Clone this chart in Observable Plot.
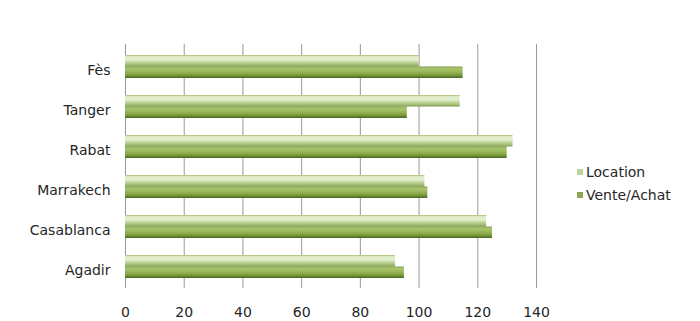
<!DOCTYPE html>
<html>
<head>
<meta charset="utf-8">
<script src="https://cdn.jsdelivr.net/npm/d3@7"></script>
<script src="https://cdn.jsdelivr.net/npm/@observablehq/plot@0.6"></script>
<style>
  html, body { margin: 0; padding: 0; background: #fff; }
  #wrap { position: relative; width: 700px; height: 321px; font-family: "DejaVu Sans", sans-serif; }
  #legend { position: absolute; left: 577px; top: 161px; font-size: 14px; color: #262626; line-height: 22.5px; }
  #legend .sw { display: inline-block; width: 6px; height: 6px; margin-right: 3px; vertical-align: 2px; }
</style>
</head>
<body>
<div id="wrap"></div>
<script>
const cities = ["Fès", "Tanger", "Rabat", "Marrakech", "Casablanca", "Agadir"];
const location_ = [100, 114, 132, 102, 123, 92];
const venteAchat = [115, 96, 130, 103, 125, 95];
const series = ["Location", "Vente/Achat"];
const xTicks = [0, 20, 40, 60, 80, 100, 120, 140];
const legendColors = ["#bcd39a", "#8aa653"];

const rows = [];
cities.forEach((c, i) => {
  rows.push({city: c, series: series[0], value: location_[i]});
  rows.push({city: c, series: series[1], value: venteAchat[i]});
});

const chart = Plot.plot({
  width: 700,
  height: 321,
  marginLeft: 125,
  marginRight: 164,
  marginTop: 44,
  marginBottom: 33,
  style: {fontFamily: "DejaVu Sans, sans-serif", fontSize: "14px", color: "#262626", background: "#fff"},
  x: {domain: [0, 140], ticks: xTicks, label: null},
  y: {domain: cities, padding: 0.425, paddingOuter: 0.2625, label: null},
  marks: [
    Plot.gridX(xTicks, {stroke: "#999999", strokeOpacity: 1, strokeWidth: 1}),
    Plot.barX(rows.filter(d => d.series === series[0]), {
      x: "value", y: "city", fill: "url(#gLoc)", insetBottom: 11.5
    }),
    Plot.barX(rows.filter(d => d.series === series[1]), {
      x: "value", y: "city", fill: "url(#gVen)", insetTop: 11.5
    }),
    Plot.axisX(xTicks, {tickSize: 0, tickPadding: 19, fontSize: 14, fill: "#262626", label: null}),
    Plot.axisY({tickSize: 0, tickPadding: 15, dy: 4, fontSize: 14, fill: "#262626", label: null})
  ]
});

// cylinder-like shading gradients
const ns = "http://www.w3.org/2000/svg";
const defs = document.createElementNS(ns, "defs");
function grad(id, stops) {
  const g = document.createElementNS(ns, "linearGradient");
  g.setAttribute("id", id);
  g.setAttribute("x1", "0"); g.setAttribute("y1", "0");
  g.setAttribute("x2", "0"); g.setAttribute("y2", "1");
  stops.forEach(([o, c]) => {
    const s = document.createElementNS(ns, "stop");
    s.setAttribute("offset", o);
    s.setAttribute("stop-color", c);
    g.appendChild(s);
  });
  defs.appendChild(g);
}
grad("gLoc", [[0, "#9fbb72"], [0.12, "#d9e8bd"], [0.35, "#e8f2d6"], [0.6, "#c7dba2"], [0.82, "#a7c27a"], [1, "#7d9852"]]);
grad("gVen", [[0, "#7e9c45"], [0.15, "#a7c46c"], [0.38, "#9dbc5e"], [0.65, "#86a646"], [0.85, "#6a8a34"], [1, "#44601d"]]);
chart.insertBefore(defs, chart.firstChild);

const wrap = document.getElementById("wrap");
wrap.appendChild(chart);

const legend = document.createElement("div");
legend.id = "legend";
series.forEach((s, i) => {
  const row = document.createElement("div");
  const sw = document.createElement("span");
  sw.className = "sw";
  sw.style.background = legendColors[i];
  row.appendChild(sw);
  row.appendChild(document.createTextNode(s));
  legend.appendChild(row);
});
wrap.appendChild(legend);
</script>
</body>
</html>
